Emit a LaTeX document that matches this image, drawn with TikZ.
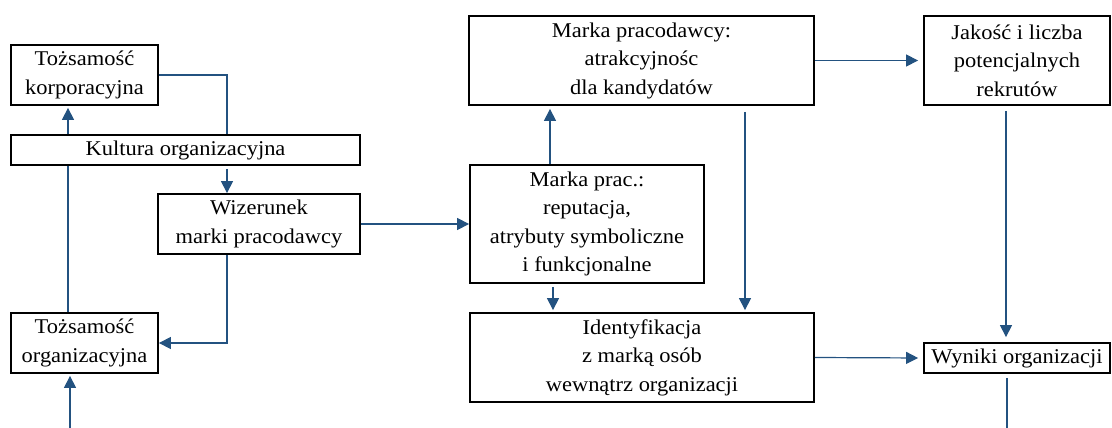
\documentclass[tikz,border=0pt]{standalone}
\usepackage{fontspec}
\setmainfont{Liberation Serif}[FakeStretch=1.07]
\usetikzlibrary{arrows.meta}
\definecolor{conn}{RGB}{35,82,128}
\begin{document}
\begin{tikzpicture}[x=1pt,y=-1pt,
  box/.style={draw=black,line width=1.8pt,inner sep=0pt,align=center,
    font=\fontsize{21}{28.5}\selectfont},
  link/.style={draw=conn,line width=1.2pt},
  arr/.style={link,-{Triangle[length=12pt,width=12pt]}}]
\useasboundingbox (0,0) rectangle (1112,428);
\node[box,minimum width=147pt,minimum height=60pt] (TK) at (84.5,75) {Tożsamość\\korporacyjna};
\node[box,minimum width=349pt,minimum height=30pt] (KO) at (185.5,150) {Kultura organizacyjna};
\node[box,minimum width=202pt,minimum height=60pt] (WMP) at (259,224) {Wizerunek\\marki pracodawcy};
\node[box,minimum width=147pt,minimum height=60pt] (TO) at (84.5,343) {Tożsamość\\organizacyjna};
\node[box,minimum width=345pt,minimum height=89pt] (MPA) at (641.5,60.5) {Marka pracodawcy:\\atrakcyjnośc\\dla kandydatów};
\node[box,minimum width=234pt,minimum height=118pt] (MPR) at (587,224) {Marka prac.:\\reputacja,\\atrybuty symboliczne\\i funkcjonalne};
\node[box,minimum width=344pt,minimum height=89pt] (IDN) at (642,357.5) {Identyfikacja\\z marką osób\\wewnątrz organizacji};
\node[box,minimum width=186pt,minimum height=89pt] (JL) at (1017,60.5) {Jakość i liczba\\potencjalnych\\rekrutów};
\node[box,minimum width=186pt,minimum height=30pt] (WO) at (1017,358) {Wyniki organizacji};
\coordinate (c1) at (227,0);
\coordinate (c2) at (68,0);
\coordinate (b1) at (70,428);
\coordinate (c3) at (550,0);
\coordinate (c4) at (745,0);
\coordinate (c6) at (553,0);
\coordinate (c5) at (1006,0);
\coordinate (b2) at (1007,428);
\draw[link] (TK.east) -| (KO.north -| c1);
\draw[arr,shorten >=2pt] (KO.north -| c2) -- (TK.south -| c2);
\draw[arr,shorten <=3pt] (KO.south -| c1) -- (WMP.north -| c1);
\draw[link] (TO.north -| c2) -- (KO.south -| c2);
\draw[arr] (WMP.south -| c1) |- (TO.east);
\draw[arr,shorten >=2pt] (b1) -- (TO.south -| b1);
\draw[arr] (WMP.east) -- (MPR.west);
\draw[arr,shorten >=3pt] (MPR.north -| c3) -- (MPA.south -| c3);
\draw[arr,shorten <=6pt,shorten >=2pt] (MPA.south -| c4) -- (IDN.north -| c4);
\draw[arr,shorten <=3pt,shorten >=2pt] (MPR.south -| c6) -- (IDN.north -| c6);
\draw[arr,shorten >=5pt] (MPA.east) -- (JL.west);
\draw[arr,shorten <=5pt,shorten >=5pt] (JL.south -| c5) -- (WO.north -| c5);
\draw[arr,shorten >=5pt] (IDN.east) -- (WO.west);
\draw[link,shorten <=4pt] (WO.south -| b2) -- (b2);
\end{tikzpicture}
\end{document}
